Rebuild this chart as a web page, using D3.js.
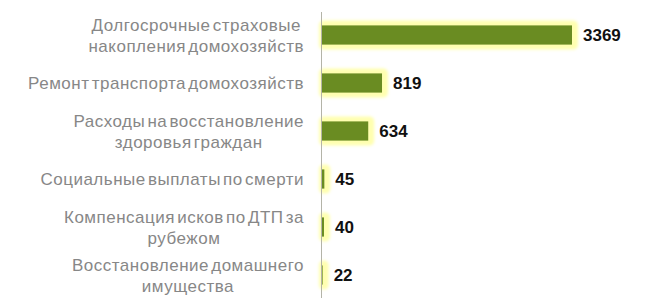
<!DOCTYPE html>
<html>
<head>
<meta charset="utf-8">
<script src="https://cdn.jsdelivr.net/npm/d3@7"></script>
<style>
  body { margin: 0; background: #fff; }
  svg { display: block; }
</style>
</head>
<body>
<div class="canvas"></div>
<script>
// data
const categories = [
  ['Долгосрочные страховые', 'накопления домохозяйств'],
  ['Ремонт транспорта домохозяйств'],
  ['Расходы на восстановление', 'здоровья граждан'],
  ['Социальные выплаты по смерти'],
  ['Компенсация исков по ДТП за', 'рубежом'],
  ['Восстановление домашнего', 'имущества']
];
const values = [3369, 819, 634, 45, 40, 22];

const width = 650, height = 304;
const axisX = 321;

const svg = d3.select('.canvas')
  .append('svg')
    .attr('width', width)
    .attr('height', height);

// glow filter
const defs = svg.append('defs');
const f = defs.append('filter').attr('id', 'glow')
  .attr('x', '-50%').attr('y', '-50%').attr('width', '200%').attr('height', '200%');
f.append('feGaussianBlur').attr('stdDeviation', 1.8);

const keys = categories.map((c, i) => i);

//scales
const x = d3.scaleLinear()
  .domain([0, 3369])
  .range([0, 251]);

const y = d3.scaleBand()
  .domain(keys)
  .range([11, 299])
  .paddingInner(0.6)
  .paddingOuter(0.3);

const graph = svg.append('g')
  .attr('transform', `translate(${axisX},0)`);

// glow behind bars
graph.selectAll('rect.glow')
  .data(values)
  .enter()
  .append('rect')
    .attr('class', 'glow')
    .attr('x', -2)
    .attr('y', (d, i) => y(i) - 5)
    .attr('width', d => x(d) + 8)
    .attr('height', y.bandwidth() + 10)
    .attr('rx', 5)
    .attr('fill', '#ffffb0')
    .attr('filter', 'url(#glow)');

// bars
graph.selectAll('rect.bar')
  .data(values)
  .enter()
  .append('rect')
    .attr('class', 'bar')
    .attr('x', 0)
    .attr('y', (d, i) => y(i))
    .attr('width', d => x(d))
    .attr('height', y.bandwidth())
    .attr('fill', '#6a8c22');

// value labels
graph.selectAll('text.val')
  .data(values)
  .enter()
  .append('text')
    .attr('class', 'val')
    .attr('x', d => x(d) + 11)
    .attr('y', (d, i) => y(i) + y.bandwidth() / 2)
    .attr('dy', '0.38em')
    .attr('font-family', 'Liberation Sans, Arial, sans-serif')
    .attr('font-weight', 'bold')
    .attr('font-size', 17)
    .attr('fill', '#111')
    .text(d => d);

// y axis
const yAxis = d3.axisLeft(y).tickSize(0).tickFormat('');
const yAxisGroup = graph.append('g').call(yAxis);
yAxisGroup.select('.domain')
  .attr('stroke', '#b4b4a8')
  .attr('d', 'M0.5,12V298');

// category labels, each block right-aligned, lines centred within block
const lineH = 21;
const labelRight = 304;
categories.forEach((lines, i) => {
  const cy = y(i) + y.bandwidth() / 2;
  const g = svg.append('g');
  const texts = g.selectAll('text')
    .data(lines)
    .enter()
    .append('text')
      .attr('font-family', 'Liberation Sans, Arial, sans-serif')
      .attr('font-size', 17)
      .attr('letter-spacing', 0.5)
      .attr('word-spacing', -3)
      .attr('fill', '#878787')
      .attr('text-anchor', 'middle')
      .attr('y', (d, j) => cy + (j - (lines.length - 1) / 2) * lineH)
      .attr('dy', '0.36em')
      .text(d => d);
  let maxW = 0;
  texts.each(function() { maxW = Math.max(maxW, this.getComputedTextLength()); });
  texts.attr('x', labelRight - maxW / 2);
});
</script>
</body>
</html>
